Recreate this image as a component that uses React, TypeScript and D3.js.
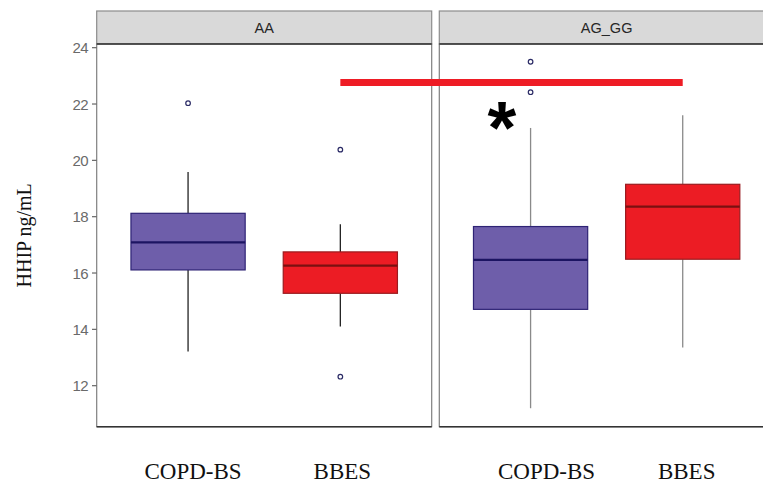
import React from "react";
import * as d3 from "d3";

const panels = ["AA", "AG_GG"];
const categories = ["COPD-BS", "BBES"];
// [lowerWhisker, q1, median, q3, upperWhisker] per panel per category
const boxStats: number[][][] = [
  [
    [13.21, 16.11, 17.09, 18.12, 19.59],
    [14.1, 15.28, 16.26, 16.75, 17.73],
  ],
  [
    [11.2, 14.71, 16.47, 17.65, 21.15],
    [13.36, 16.49, 18.36, 19.15, 21.6],
  ],
];
const outliers: number[][][] = [
  [[22.03], [20.38, 12.32]],
  [[23.5, 22.42], []],
];
const yTicks = [12, 14, 16, 18, 20, 22, 24];
const sigLineValue = 22.76;
const sigStarValue = 21.4;

const W = 763;
const H = 484;
const panelX = [
  [96.7, 431.7],
  [439.3, 774],
];
const stripTop = 11;
const plotTop = 44;
const plotBottom = 426.7;
const fills = ["#6E5EAA", "#EC1C24"];
const boxStrokes = ["#2E2375", "#9A1B1F"];
const medianStrokes = ["#1C1462", "#7A1010"];
const whiskerColors = ["#222", "#8a8a8a"];
const labelOffsets = [
  [5, 2],
  [16, 4],
];

export default function App() {
  const y = d3.scaleLinear().domain([10.544, 24.131]).range([plotBottom, plotTop]);
  const xScales = panelX.map(([a, b]) =>
    d3.scalePoint<string>().domain(categories).range([a, b]).padding(0.6)
  );
  const step = xScales[0].step();
  const boxW = step * 0.75;

  return (
    <svg
      width={W}
      height={H}
      style={{ position: "absolute", left: 0, top: 0, background: "#fff" }}
    >
      {panels.map((p, pi) => {
        const [x0, x1] = panelX[pi];
        const xs = xScales[pi];
        return (
          <g key={p}>
            <rect x={x0} y={stripTop} width={x1 - x0} height={plotTop - stripTop} fill="#D9D9D9" stroke="#8c8c8c" strokeWidth={1.2} />
            <text x={(x0 + x1) / 2} y={(stripTop + plotTop) / 2 + 5} textAnchor="middle" fontFamily="Liberation Sans, Arial, sans-serif" fontSize={14.5} fill="#262626">
              {p}
            </text>
            <rect x={x0} y={plotTop} width={x1 - x0} height={plotBottom - plotTop} fill="#fff" stroke="#7f7f7f" strokeWidth={1.2} />
            <line x1={x0} x2={x1} y1={plotTop} y2={plotTop} stroke="#333" strokeWidth={1.3} />
            <line x1={x0} x2={x1} y1={plotBottom} y2={plotBottom} stroke="#333" strokeWidth={1.5} />
            {categories.map((c, ci) => {
              const [lw, q1, med, q3, uw] = boxStats[pi][ci];
              const cx = xs(c)!;
              return (
                <g key={c}>
                  <line x1={cx} x2={cx} y1={y(uw)} y2={y(q3)} stroke={whiskerColors[pi]} strokeWidth={1.3} />
                  <line x1={cx} x2={cx} y1={y(q1)} y2={y(lw)} stroke={whiskerColors[pi]} strokeWidth={1.3} />
                  <rect x={cx - boxW / 2} y={y(q3)} width={boxW} height={y(q1) - y(q3)} fill={fills[ci]} stroke={boxStrokes[ci]} strokeWidth={1.2} />
                  <line x1={cx - boxW / 2} x2={cx + boxW / 2} y1={y(med)} y2={y(med)} stroke={medianStrokes[ci]} strokeWidth={2.2} />
                  {outliers[pi][ci].map((o, oi) => (
                    <circle key={oi} cx={cx} cy={y(o)} r={2.3} fill="#fff" stroke="#2b2b66" strokeWidth={1.2} />
                  ))}
                  <text x={cx + labelOffsets[pi][ci]} y={479} textAnchor="middle" fontFamily="Liberation Serif, Times New Roman, serif" fontSize={23} fill="#111">
                    {c}
                  </text>
                </g>
              );
            })}
          </g>
        );
      })}
      {/* y axis */}
      {yTicks.map((t) => (
        <g key={t}>
          <line x1={92} x2={96.7} y1={y(t)} y2={y(t)} stroke="#666" strokeWidth={1.2} />
          <text x={88} y={y(t) + 5.5} textAnchor="end" fontFamily="Liberation Sans, Arial, sans-serif" fontSize={15} letterSpacing={-0.6} fill="#6a6a6a">
            {t}
          </text>
        </g>
      ))}
      <text transform={`translate(31, ${(plotTop + plotBottom) / 2}) rotate(-90)`} textAnchor="middle" fontFamily="Liberation Serif, Times New Roman, serif" fontSize={20} fill="#111">
        HHIP ng/mL
      </text>
      {/* significance */}
      <line x1={xScales[0]("BBES")!} x2={xScales[1]("BBES")!} y1={y(sigLineValue)} y2={y(sigLineValue)} stroke="#EE1C25" strokeWidth={7} />
      <text x={502} y={y(sigStarValue) + 32} textAnchor="middle" fontFamily="Liberation Sans, Arial, sans-serif" fontWeight="bold" fontSize={74} fill="#000">
        *
      </text>
    </svg>
  );
}
